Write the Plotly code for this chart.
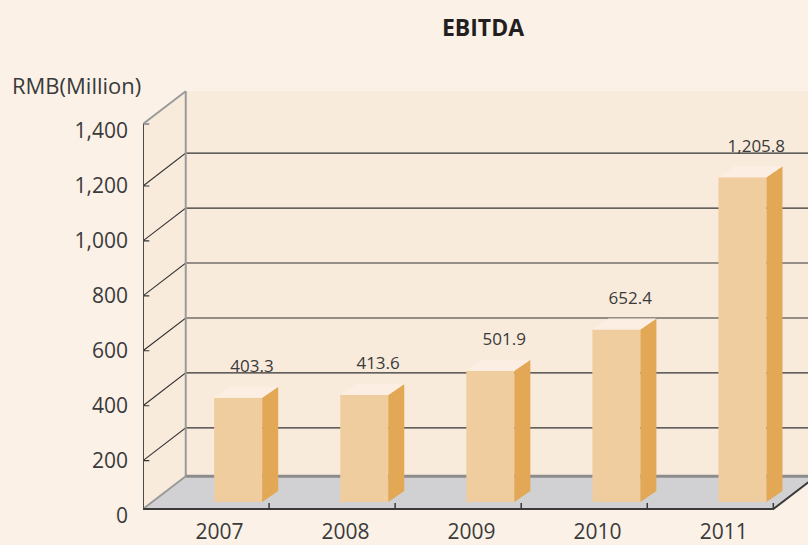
import plotly.graph_objects as go

# ---------------- data ----------------
years = ["2007", "2008", "2009", "2010", "2011"]
ebitda = [403.3, 413.6, 501.9, 652.4, 1205.8]
y_ticks = [0, 200, 400, 600, 800, 1000, 1200, 1400]
y_tick_text = [f"{v:,}" for v in y_ticks]
grid_levels = [200, 400, 600, 800, 1000, 1200]

# ---------------- style / geometry constants ----------------
PAPER = "#FBF1E7"
WALL = "#F9EBDC"
FLOOR_FILL = "#D1D1D3"
FRONT = "#F0CD9E"
SIDE = "#E2A856"
TOP = "#FCEEE2"
TEXT = "#3A3A3A"
FONT = "Open Sans"

X_RANGE = [-0.5, 4.775]
Y_RANGE = [-16.0, 1658.5]
FLOOR = 24.0          # floor plane level (value units)
WALL_TOP = 1425.5     # top of the walls
DX = 0.339            # wall depth (x units)
DY = 119.4            # wall depth (value units)
NUB = 0.05
BAR_W = 0.381
BAR_SHIFT = 0.255
BAR_DX = 0.127
BAR_DY = 40.0
BAR_LIFT = 25.5
LABEL_X = 0.365
LABEL_GAP = 109.0
YEAR_SHIFT = 0.106

x0 = X_RANGE[0]
x_far = X_RANGE[1] + 1
n = len(years)
x_end = n - 0.5


def path(pts, close=False):
    s = "M " + " L ".join(f"{x},{y}" for x, y in pts)
    return s + (" Z" if close else "")


shapes = []
# left side wall
shapes.append(dict(type="path", xref="x", yref="y", layer="below",
                   path=path([(x0, FLOOR), (x0 + DX, FLOOR + DY), (x0 + DX, WALL_TOP + DY), (x0, WALL_TOP)], True),
                   fillcolor=WALL, line=dict(width=0)))
# back wall
shapes.append(dict(type="path", xref="x", yref="y", layer="below",
                   path=path([(x0 + DX, FLOOR + DY), (x_far, FLOOR + DY), (x_far, WALL_TOP + DY), (x0 + DX, WALL_TOP + DY)], True),
                   fillcolor=WALL, line=dict(width=0)))
# gridlines with slanted connectors and nubs
for v in grid_levels:
    shapes.append(dict(type="path", xref="x", yref="y", layer="below",
                       path=path([(x0 + NUB, v), (x0, v), (x0 + DX, v + DY), (x_far, v + DY)]),
                       line=dict(color="#333333", width=1.1)))
# back wall left edge
shapes.append(dict(type="path", xref="x", yref="y", layer="below",
                   path=path([(x0 + DX, FLOOR + DY), (x0 + DX, WALL_TOP + DY)]),
                   line=dict(color="#9A9A9A", width=2)))
# top edge
shapes.append(dict(type="path", xref="x", yref="y", layer="below",
                   path=path([(x0 + NUB, WALL_TOP), (x0, WALL_TOP), (x0 + DX, WALL_TOP + DY)]),
                   line=dict(color="#9A9A9A", width=2)))
# floor
shapes.append(dict(type="path", xref="x", yref="y", layer="below",
                   path=path([(x0, FLOOR), (x_end, FLOOR), (x_end + DX, FLOOR + DY), (x0 + DX, FLOOR + DY)], True),
                   fillcolor=FLOOR_FILL, line=dict(width=0)))
shapes.append(dict(type="path", xref="x", yref="y", layer="below",
                   path=path([(x0 + DX, FLOOR + DY), (x_end + DX, FLOOR + DY)]),
                   line=dict(color="#8C8C8C", width=3)))
shapes.append(dict(type="path", xref="x", yref="y", layer="below",
                   path=path([(x0, FLOOR), (x0 + DX, FLOOR + DY)]),
                   line=dict(color="#9A9A9A", width=2)))
shapes.append(dict(type="path", xref="x", yref="y", layer="below",
                   path=path([(x0, FLOOR), (x_end, FLOOR), (x_end + DX, FLOOR + DY)]),
                   line=dict(color="#3A3A3A", width=2)))
# category tick nubs on the floor front edge
for i in range(n + 1):
    xb = i - 0.5
    shapes.append(dict(type="path", xref="x", yref="y", layer="below",
                       path=path([(xb, FLOOR), (xb, FLOOR + 22)]),
                       line=dict(color="#3A3A3A", width=1.5)))
# front value axis
shapes.append(dict(type="path", xref="x", yref="y", layer="below",
                   path=path([(x0, FLOOR), (x0, WALL_TOP)]),
                   line=dict(color="#4A4A4A", width=2)))

fig = go.Figure()

xs = [i + BAR_SHIFT for i in range(n)]
base = FLOOR + BAR_LIFT
fig.add_trace(go.Bar(x=xs, y=[v + BAR_LIFT - base for v in ebitda], base=base, width=BAR_W,
                     marker=dict(color=FRONT, line=dict(width=0)), hoverinfo="skip", showlegend=False))

side_x, side_y, top_x, top_y = [], [], [], []
for xc, v in zip(xs, ebitda):
    xl, xr = xc - BAR_W / 2, xc + BAR_W / 2
    t = v + BAR_LIFT
    side_x += [xr, xr + BAR_DX, xr + BAR_DX, xr, xr, None]
    side_y += [base, base + BAR_DY, t + BAR_DY, t, base, None]
    top_x += [xl, xr, xr + BAR_DX, xl + BAR_DX, xl, None]
    top_y += [t, t, t + BAR_DY, t + BAR_DY, t, None]

fig.add_trace(go.Scatter(x=side_x, y=side_y, mode="lines", fill="toself", fillcolor=SIDE,
                         line=dict(width=0, color=SIDE), hoverinfo="skip", showlegend=False))
fig.add_trace(go.Scatter(x=top_x, y=top_y, mode="lines", fill="toself", fillcolor=TOP,
                         line=dict(width=0, color=TOP), hoverinfo="skip", showlegend=False))

fig.add_trace(go.Scatter(x=[i + LABEL_X for i in range(n)], y=[v + BAR_LIFT + LABEL_GAP for v in ebitda],
                         mode="text", text=[f"{v:,.1f}" for v in ebitda],
                         textfont=dict(family=FONT, size=17, color=TEXT), textposition="middle center",
                         hoverinfo="skip", showlegend=False, cliponaxis=False))

fig.update_layout(
    width=808, height=545, autosize=False,
    margin=dict(l=143, r=0, t=60, b=25),
    paper_bgcolor=PAPER, plot_bgcolor=PAPER,
    shapes=shapes,
    showlegend=False,
    font=dict(family=FONT, color=TEXT),
    title=dict(text="<b>EBITDA</b>", x=483 / 808, xanchor="center", y=1 - 28 / 545, yanchor="middle",
               xref="container", yref="container", font=dict(family=FONT, size=23, color="#231F20")),
    xaxis=dict(range=X_RANGE, showgrid=False, zeroline=False, showline=False, automargin=False,
               tickmode="array", tickvals=[i + YEAR_SHIFT for i in range(n)], ticktext=years,
               ticks="", tickfont=dict(family=FONT, size=21, color=TEXT),
               anchor="free", position=(520 - 509) / 460, ticklabelstandoff=8),
    yaxis=dict(range=Y_RANGE, showgrid=False, zeroline=False, showline=False, automargin=False,
               tickmode="array", tickvals=y_ticks, ticktext=y_tick_text, ticks="",
               tickfont=dict(family=FONT, size=21, color=TEXT), ticklabelstandoff=14),
    annotations=[dict(text="RMB(Million)", xref="paper", yref="paper", x=(10 - 143) / 665, y=(520 - 85) / 460,
                      xanchor="left", yanchor="middle", showarrow=False,
                      font=dict(family=FONT, size=22, color=TEXT))],
)

fig.write_html("out.html", config={"displayModeBar": False},
               post_script="document.body.style.margin='0';document.body.style.overflow='hidden';")
